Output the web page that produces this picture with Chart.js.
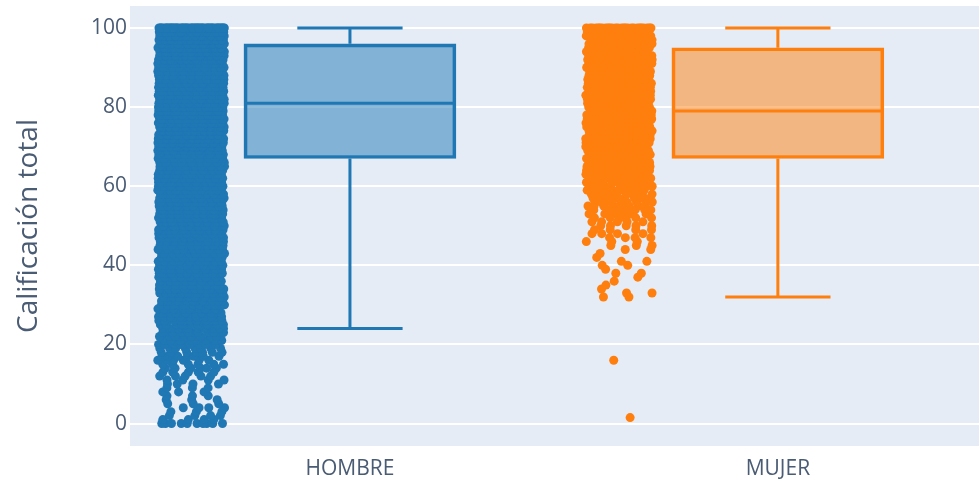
<!DOCTYPE html>
<html>
<head>
<meta charset="utf-8">
<script src="https://cdn.jsdelivr.net/npm/chart.js@4.4.1/dist/chart.umd.min.js"></script>
<style>
    html, body { margin: 0; background: #ffffff; overflow: hidden; }
    #wrap { width: 979px; height: 482px; position: relative; }
</style>
</head>
<body>
<div id="wrap"><canvas id="scoreChart"></canvas></div>
<script>
const categories = ['HOMBRE', 'MUJER'];
const lineColors = ['#1f77b4', '#ff7f0e'];
const fillColors = ['rgba(31, 119, 180, 0.5)', 'rgba(255, 127, 14, 0.5)'];

// box statistics per group
const q1 = [67, 67];
const medians = [81, 79];
const q3 = [96, 95];
const whiskerLow = [24, 32];
const whiskerHigh = [100, 100];

// number of students per total score (index = score 0..100)
const hombreCounts = [
    10, 4, 4, 3, 4, 3, 3, 3, 3, 3,
    4, 4, 5, 5, 6, 6, 6, 7, 7, 8,
    10, 10, 11, 11, 12, 12, 13, 13, 14, 14,
    15, 15, 15, 16, 16, 16, 16, 17, 17, 17,
    17, 17, 17, 18, 18, 18, 19, 19, 19, 20,
    20, 20, 21, 21, 22, 22, 23, 23, 24, 24,
    25, 25, 26, 26, 27, 27, 28, 28, 29, 29,
    30, 30, 31, 31, 32, 32, 33, 33, 34, 34,
    35, 35, 35, 35, 35, 35, 35, 35, 35, 35,
    35, 35, 35, 35, 35, 35, 35, 35, 35, 35,
    50,
];
const mujerCounts = [
    0, 0, 0, 0, 0, 0, 0, 0, 0, 0,
    0, 0, 0, 0, 0, 0, 0, 0, 0, 0,
    0, 0, 0, 0, 0, 0, 0, 0, 0, 0,
    0, 0, 2, 2, 1, 1, 1, 1, 2, 1,
    2, 2, 1, 1, 2, 3, 3, 4, 4, 4,
    5, 5, 6, 6, 7, 8, 9, 10, 11, 12,
    12, 12, 12, 13, 13, 14, 14, 14, 15, 15,
    15, 15, 16, 16, 16, 16, 16, 16, 16, 16,
    16, 16, 16, 16, 16, 16, 16, 16, 16, 16,
    16, 16, 16, 16, 16, 16, 16, 16, 16, 16,
    26,
];
const mujerOutliers = [16, 1.5];
const yTicks = [0, 20, 40, 60, 80, 100];

const textColor = '#4a5b74';
const boxHalf = 0.247;
const capHalf = 0.123;
const pointsShift = -0.371;
const jitterHalf = 0.078;

// integer hash -> [0, 1), used to shift each score row's jitter phase
function rowPhase(n) {
    let h = Math.imul(n + 0x9e3779b9, 0x85ebca6b);
    h ^= h >>> 13;
    h = Math.imul(h, 0xc2b2ae35);
    h ^= h >>> 16;
    return (h >>> 0) / 4294967296;
}

function jitterPoints(i, counts, extra) {
    const pts = [];
    const place = (v, j, seed) => {
        const u = (rowPhase(seed) + j * 0.6180339887) % 1;
        pts.push({ x: i + pointsShift + (u * 2 - 1) * jitterHalf, y: v });
    };
    counts.forEach((n, score) => {
        for (let j = 0; j < n; j++) place(score, j, score * 7 + i * 1000);
    });
    extra.forEach((v, j) => place(v, 0, 5000 + j * 31 + i));
    return pts;
}

function whiskerPath(i) {
    return [
        { x: i - capHalf, y: whiskerHigh[i] }, { x: i + capHalf, y: whiskerHigh[i] }, { x: i, y: null },
        { x: i, y: whiskerHigh[i] }, { x: i, y: q3[i] }, { x: i, y: null },
        { x: i, y: q1[i] }, { x: i, y: whiskerLow[i] }, { x: i, y: null },
        { x: i - capHalf, y: whiskerLow[i] }, { x: i + capHalf, y: whiskerLow[i] },
    ];
}

const pointSets = [jitterPoints(0, hombreCounts, []), jitterPoints(1, mujerCounts, mujerOutliers)];

const datasets = [];
categories.forEach((name, i) => {
    datasets.push({
        type: 'scatter',
        label: name,
        data: pointSets[i],
        backgroundColor: lineColors[i],
        borderWidth: 0,
        pointRadius: 4.5,
        pointHoverRadius: 4.5,
    });
    datasets.push({
        type: 'line',
        data: [{ x: i - boxHalf, y: medians[i] }, { x: i + boxHalf, y: medians[i] }],
        borderColor: lineColors[i],
        borderWidth: 3,
        pointRadius: 0,
        fill: false,
    });
    datasets.push({
        type: 'line',
        data: whiskerPath(i),
        borderColor: lineColors[i],
        borderWidth: 3,
        pointRadius: 0,
        spanGaps: false,
        fill: false,
    });
    datasets.push({
        type: 'bar',
        data: [{ x: i, y: [q1[i], q3[i]] }],
        backgroundColor: fillColors[i],
        borderColor: lineColors[i],
        borderWidth: 3,
        borderSkipped: false,
        barThickness: 212,
        grouped: false,
    });
});

const plotBackground = {
    id: 'plotBackground',
    beforeDraw(chart) {
        const { ctx, chartArea: a } = chart;
        ctx.save();
        ctx.fillStyle = '#e5ecf6';
        ctx.fillRect(a.left, a.top, a.right - a.left, a.bottom - a.top);
        ctx.restore();
    },
};

new Chart(document.getElementById('scoreChart'), {
    type: 'scatter',
    data: { datasets },
    plugins: [plotBackground],
    options: {
        responsive: true,
        maintainAspectRatio: false,
        animation: false,
        layout: { autoPadding: false, padding: { top: 6, left: 0, right: 0, bottom: 0 } },
        plugins: {
            legend: { display: false },
            tooltip: { enabled: false },
        },
        scales: {
            x: {
                type: 'linear',
                min: -0.514,
                max: 1.47,
                offset: false,
                afterBuildTicks: axis => { axis.ticks = categories.map((_, i) => ({ value: i })); },
                afterFit: scale => {
                    scale.height = 36;
                    scale.paddingLeft = 0;
                    scale.paddingRight = 0;
                },
                grid: { display: false },
                border: { display: false },
                ticks: {
                    autoSkip: false,
                    maxRotation: 0,
                    padding: 2,
                    color: textColor,
                    font: { family: 'Open Sans', size: 21 },
                    callback: v => categories[v],
                },
            },
            y: {
                min: -5.68,
                max: 105.56,
                afterBuildTicks: axis => { axis.ticks = yTicks.map(v => ({ value: v })); },
                afterFit: scale => {
                    scale.width = 130;
                    scale.paddingTop = 0;
                    scale.paddingBottom = 0;
                },
                grid: { color: '#ffffff', lineWidth: 2, drawTicks: false },
                border: { display: false },
                ticks: {
                    padding: 3,
                    color: textColor,
                    font: { family: 'Open Sans', size: 21 },
                },
                title: {
                    display: true,
                    text: 'Calificación total',
                    color: textColor,
                    padding: { top: 12, bottom: 0 },
                    font: { family: 'Open Sans', size: 28 },
                },
            },
        },
    },
});
</script>
</body>
</html>
